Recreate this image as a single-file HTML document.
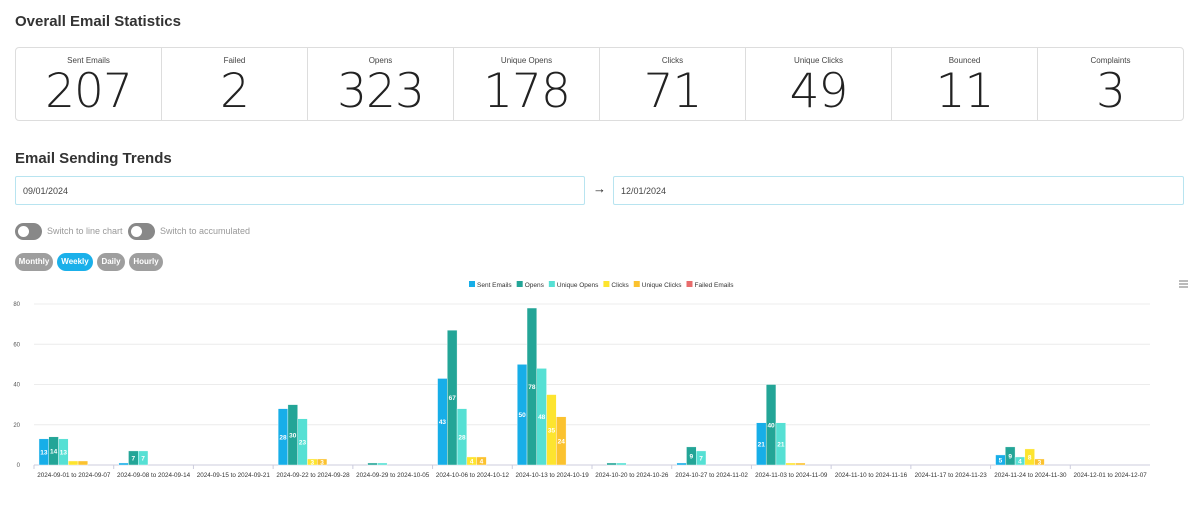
<!DOCTYPE html>
<html><head><meta charset="utf-8">
<style>
body{margin:0;width:1200px;height:523px;background:#fff;font-family:"Liberation Sans",sans-serif;color:#222;overflow:hidden;position:relative}
.abs{position:absolute}
h2{position:absolute;margin:0;font-size:15px;font-weight:bold;color:#333}
.cards{left:15px;top:47px;width:1169px;height:74px;border:1px solid #ddd;border-radius:4px;display:flex;box-sizing:border-box}
.card{flex:1;border-right:1px solid #ddd;text-align:center;position:relative}
.card:last-child{border-right:none}
.card .l{font-size:8px;color:#444;margin-top:8px}
.card .v{font-family:"DejaVu Sans ExtraLight","DejaVu Sans","Liberation Sans",sans-serif;font-size:47px;font-weight:200;line-height:50px;color:#222;margin-top:2px;letter-spacing:-1px}
.inp{height:29px;border:1px solid #b8e4f0;border-radius:2px;box-sizing:border-box;font-size:9px;color:#444;padding:9px 7px}
.tog{width:27px;height:17px;background:#888;border-radius:9px}
.tog:after{content:"";position:absolute;left:3px;top:3px;width:11px;height:11px;border-radius:50%;background:#fff}
.tl{font-size:9px;color:#999}
.btn{height:18px;border-radius:9px;background:#9e9e9e;color:#fff;font-size:8px;font-weight:bold;line-height:18px;text-align:center}
</style></head><body>
<h2 style="left:15px;top:13px">Overall Email Statistics</h2>
<div class="abs cards">
<div class="card"><div class="l">Sent Emails</div><div class="v">207</div></div>
<div class="card"><div class="l">Failed</div><div class="v">2</div></div>
<div class="card"><div class="l">Opens</div><div class="v">323</div></div>
<div class="card"><div class="l">Unique Opens</div><div class="v">178</div></div>
<div class="card"><div class="l">Clicks</div><div class="v">71</div></div>
<div class="card"><div class="l">Unique Clicks</div><div class="v">49</div></div>
<div class="card"><div class="l">Bounced</div><div class="v">11</div></div>
<div class="card"><div class="l">Complaints</div><div class="v">3</div></div>
</div>
<h2 style="left:15px;top:150px">Email Sending Trends</h2>
<div class="abs inp" style="left:15px;top:176px;width:570px">09/01/2024</div>
<div class="abs" style="left:593px;top:181px;font-size:13px;font-weight:bold">→</div>
<div class="abs inp" style="left:613px;top:176px;width:571px">12/01/2024</div>
<div class="abs tog" style="left:15px;top:223px"></div>
<div class="abs tl" style="left:47px;top:226px">Switch to line chart</div>
<div class="abs tog" style="left:128px;top:223px"></div>
<div class="abs tl" style="left:160px;top:226px">Switch to accumulated</div>
<div class="abs btn" style="left:15px;top:253px;width:38px">Monthly</div>
<div class="abs btn" style="left:57px;top:253px;width:36px;background:#1ab0ea">Weekly</div>
<div class="abs btn" style="left:97px;top:253px;width:28px">Daily</div>
<div class="abs btn" style="left:129px;top:253px;width:34px">Hourly</div>
<svg class="abs" style="left:0;top:270px" width="1200" height="253" id="chart"></svg>
<script>
const categories=["2024-09-01 to 2024-09-07","2024-09-08 to 2024-09-14","2024-09-15 to 2024-09-21","2024-09-22 to 2024-09-28","2024-09-29 to 2024-10-05","2024-10-06 to 2024-10-12","2024-10-13 to 2024-10-19","2024-10-20 to 2024-10-26","2024-10-27 to 2024-11-02","2024-11-03 to 2024-11-09","2024-11-10 to 2024-11-16","2024-11-17 to 2024-11-23","2024-11-24 to 2024-11-30","2024-12-01 to 2024-12-07"];
const sentEmails=[13,1,0,28,0,43,50,0,1,21,0,0,5,0];
const opens=[14,7,0,30,1,67,78,1,9,40,0,0,9,0];
const uniqueOpens=[13,7,0,23,1,28,48,1,7,21,0,0,4,0];
const clicks=[2,0,0,3,0,4,35,0,0,1,0,0,8,0];
const uniqueClicks=[2,0,0,3,0,4,24,0,0,1,0,0,3,0];
const failedEmails=[0,0,0,0,0,0,0,0,0,0,0,0,0,0];
const seriesNames=["Sent Emails","Opens","Unique Opens","Clicks","Unique Clicks","Failed Emails"];
const yTicks=[0,20,40,60,80];
const series=[sentEmails,opens,uniqueOpens,clicks,uniqueClicks,failedEmails];
const colors=["#17aee8","#23a597","#56e0d4","#fde42f","#fbc22f","#e86c6c"];
const svg=document.getElementById('chart');
const NS='http://www.w3.org/2000/svg';
const X0=34,X1=1150,Y0=195,Y80=34;
const cw=(X1-X0)/categories.length;
const y=v=>Y0-(v/80)*(Y0-Y80);
const xc=i=>X0+i*cw;
function mk(t,a,txt){const e=document.createElementNS(NS,t);for(const k in a)e.setAttribute(k,a[k]);if(txt!=null)e.textContent=txt;svg.appendChild(e);return e;}
yTicks.forEach(t=>{
 const g=mk('line',{x1:X0,x2:X1,y1:y(t),y2:y(t),stroke:t?'#ececec':'#ccd',"stroke-width":1});
 
 
 const l=mk('text',{x:20,y:y(t)+2,"font-size":6,fill:'#555',"text-anchor":'end'},t);
 
 
});
categories.forEach((c,i)=>{
 const tk=mk('line',{x1:xc(i),x2:xc(i),y1:Y0,y2:Y0+4,stroke:'#ccd'});
 
 
 const l=mk('text',{x:xc(i)+cw/2,y:Y0+12,"font-size":6.3,fill:'#333',"text-anchor":'middle'},c);
 
 
});
const bw=cw*0.1225;
series.forEach((s,si)=>{
 s.forEach((v,i)=>{
  if(!v)return;
  const bx=xc(i)+cw*0.0625+si*bw;
  const r=mk('rect',{x:bx,y:y(v),width:bw,height:Y0-y(v),fill:colors[si],stroke:'#fff',"stroke-width":0.4});
  
  
  if(v>=3){
   const t=mk('text',{x:bx+bw/2,y:(y(v)+Y0)/2+2.5,"font-size":6.5,"font-weight":'bold',fill:'#fff',"text-anchor":'middle'},v);
   
   
  }
 });
});
let lx=469;
seriesNames.forEach((n,si)=>{
 const r=mk('rect',{x:lx,y:11,width:6,height:6,fill:colors[si]});
 
 
 const t=mk('text',{x:lx+8,y:17,"font-size":6.5,fill:'#333'},n);
 
 
 lx+=8+t.getComputedTextLength()+5;
});
[0,3,6].forEach(d=>{
 const m=mk('line',{x1:1179,x2:1188,y1:11+d,y2:11+d,stroke:'#777',"stroke-width":1});
 
 
});
</script>
</body></html>
